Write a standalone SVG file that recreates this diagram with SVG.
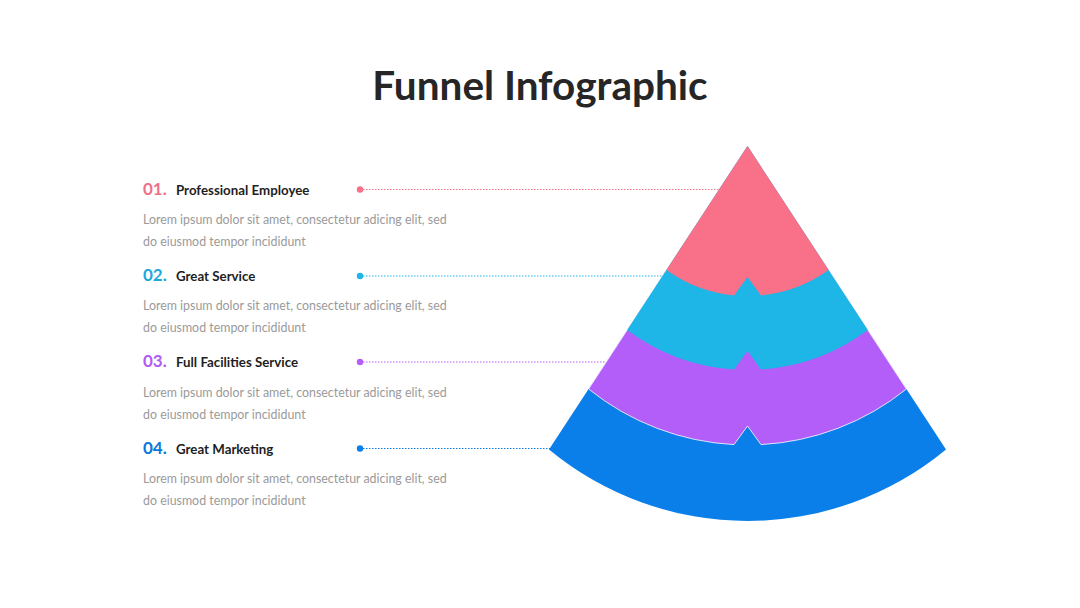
<svg xmlns="http://www.w3.org/2000/svg" width="1080" height="608" viewBox="0 0 1080 608">
<style>
.title{font-family:Lato,"Liberation Sans",sans-serif;font-weight:700;font-size:40.5px;fill:#262626}
.num{font-family:Lato,"Liberation Sans",sans-serif;font-weight:700;font-size:17px}
.lbl{font-family:Lato,"Liberation Sans",sans-serif;font-weight:700;font-size:13.3px;fill:#1e1e1e}
.body{font-family:Lato,"Liberation Sans",sans-serif;font-size:12.4px;fill:#9a9a9a}
.dl{stroke-width:1;stroke-dasharray:1.5 1.5;fill:none}
</style>
<rect width="1080" height="608" fill="#ffffff"/>
<text class="title" x="540" y="100" text-anchor="middle">Funnel Infographic</text>

<g id="funnel">
<path id="band4" d="M747.5 146 L946 449.5 A311.3 311.3 0 0 1 549 449.5 Z" fill="#0A7FE9"/>
<path id="band3" d="M747.5 146 L906.4 389 A253.4 253.4 0 0 1 761 444.6 L747.5 426 L734 444.6 A253.4 253.4 0 0 1 588.6 389 Z" fill="#B45EF9" stroke="#ffffff" stroke-width="0.8"/>
<path id="band2" d="M747.5 146 L867.8 330 A200.9 200.9 0 0 1 761 369.5 L747.5 351 L734 369.5 A200.9 200.9 0 0 1 627.2 330 Z" fill="#1EB6E7"/>
<path id="band1" d="M747.5 146 L828.6 270 A139.5 139.5 0 0 1 761 295.4 L747.5 277 L734 295.4 A139.5 139.5 0 0 1 666.4 270 Z" fill="#F87188"/>
</g>

<g id="connectors">
<line class="dl" x1="360" y1="189.5" x2="720" y2="189.5" stroke="#F87188"/>
<line class="dl" x1="360" y1="276" x2="664" y2="276" stroke="#1EB6E7"/>
<line class="dl" x1="360" y1="362" x2="606" y2="362" stroke="#B45EF9"/>
<line class="dl" x1="360" y1="448.5" x2="550" y2="448.5" stroke="#0A7FE9"/>
<circle cx="360" cy="189.5" r="3.2" fill="#F87188"/>
<circle cx="360" cy="276" r="3.2" fill="#1EB6E7"/>
<circle cx="360" cy="362" r="3.2" fill="#B45EF9"/>
<circle cx="360" cy="448.5" r="3.2" fill="#0A7FE9"/>
</g>

<g id="item1">
<text class="num" x="143" y="194.5" fill="#F0708A">01.</text>
<text class="lbl" x="176" y="194.5">Professional Employee</text>
<text class="body" x="143" y="223.5">Lorem ipsum dolor sit amet, consectetur adicing elit, sed</text>
<text class="body" x="143" y="245.5">do eiusmod tempor incididunt</text>
</g>
<g id="item2">
<text class="num" x="143" y="281" fill="#1CA9DA">02.</text>
<text class="lbl" x="176" y="281">Great Service</text>
<text class="body" x="143" y="310">Lorem ipsum dolor sit amet, consectetur adicing elit, sed</text>
<text class="body" x="143" y="332">do eiusmod tempor incididunt</text>
</g>
<g id="item3">
<text class="num" x="143" y="367" fill="#B05CF2">03.</text>
<text class="lbl" x="176" y="367">Full Facilities Service</text>
<text class="body" x="143" y="396.5">Lorem ipsum dolor sit amet, consectetur adicing elit, sed</text>
<text class="body" x="143" y="418.5">do eiusmod tempor incididunt</text>
</g>
<g id="item4">
<text class="num" x="143" y="453.5" fill="#0A78DC">04.</text>
<text class="lbl" x="176" y="453.5">Great Marketing</text>
<text class="body" x="143" y="482.5">Lorem ipsum dolor sit amet, consectetur adicing elit, sed</text>
<text class="body" x="143" y="504.5">do eiusmod tempor incididunt</text>
</g>
</svg>
